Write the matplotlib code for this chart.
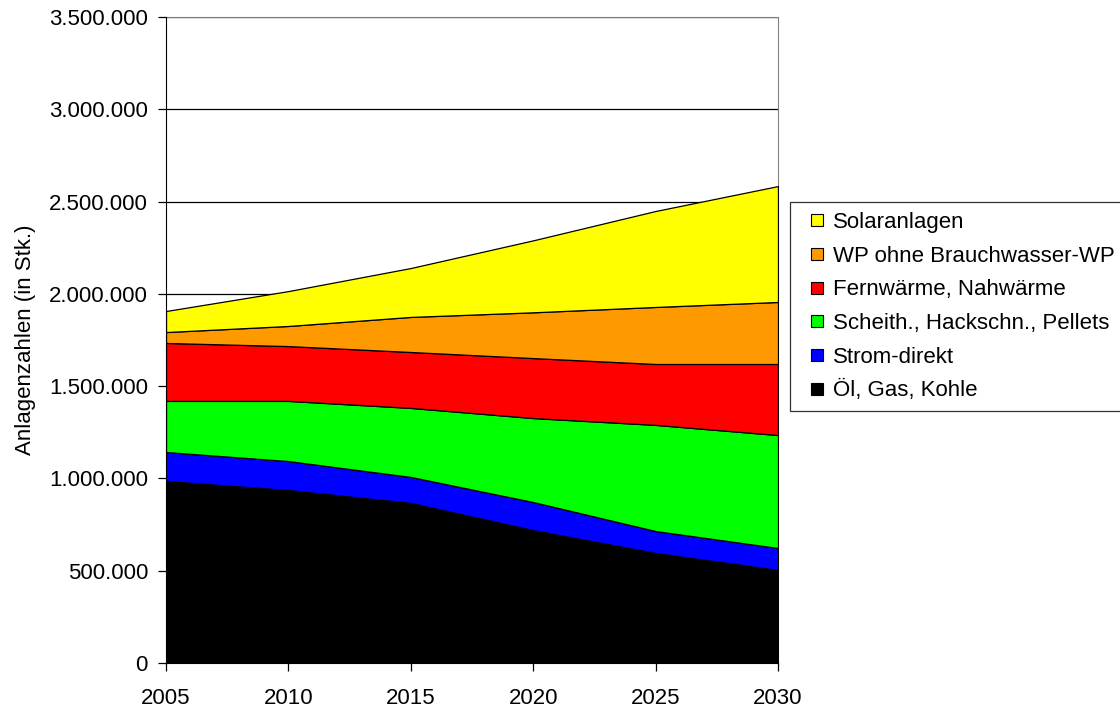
import matplotlib
matplotlib.use("Agg")
import matplotlib.pyplot as plt
from matplotlib.lines import Line2D
from matplotlib.ticker import FuncFormatter

plt.rcParams['font.family'] = ['Liberation Sans', 'DejaVu Sans']

# ---------- Data ----------
years = [2005, 2010, 2015, 2020, 2025, 2030]

oel_gas_kohle = [986000, 937000, 867000, 720000, 596000, 504000]
strom_direkt = [157000, 157000, 141000, 152000, 119000, 119000]
scheitholz = [277000, 326000, 374000, 455000, 575000, 612000]
fernwaerme = [314000, 297000, 303000, 325000, 330000, 385000]
wp = [59000, 109000, 190000, 248000, 309000, 336000]
solar = [114000, 189000, 265000, 390000, 520000, 628000]

labels = [
    "Öl, Gas, Kohle",
    "Strom-direkt",
    "Scheith., Hackschn., Pellets",
    "Fernwärme, Nahwärme",
    "WP ohne Brauchwasser-WP",
    "Solaranlagen",
]
colors = ["#000000", "#0000FF", "#00FF00", "#FF0000", "#FF9900", "#FFFF00"]

FS = 16

# ---------- Plot ----------
fig = plt.figure(figsize=(11.2, 7.08), dpi=100)
ax = fig.add_axes([166 / 1120, 1 - 663 / 708, (778 - 166) / 1120, (663 - 17) / 708])

ax.stackplot(years, oel_gas_kohle, strom_direkt, scheitholz, fernwaerme, wp, solar,
             colors=colors, edgecolor="black", linewidth=0.9, zorder=3)

ax.set_xlim(2005, 2030)
ax.set_ylim(0, 3500000)
ax.set_xticks(years)
ax.set_yticks(range(0, 3500001, 500000))
ax.yaxis.set_major_formatter(FuncFormatter(lambda v, p: f"{int(v):,}".replace(",", ".")))
ax.grid(axis="y", color="black", linewidth=0.9, zorder=1)

for side in ["top", "right"]:
    ax.spines[side].set_color("#808080")
for side in ["left", "bottom"]:
    ax.spines[side].set_color("black")
ax.spines["left"].set_zorder(5)

ax.tick_params(axis="both", direction="out", length=6, width=0.9, labelsize=FS, colors="black")
ax.tick_params(axis="y", pad=7)
ax.tick_params(axis="x", pad=12)
ax.set_ylabel("Anlagenzahlen (in Stk.)", fontsize=FS, labelpad=9)

# square legend keys with black outline
handles = [Line2D([], [], linestyle="none", marker="s", markersize=8.5,
                  markerfacecolor=c, markeredgecolor="black", markeredgewidth=0.8)
           for c in colors]
leg = fig.legend(handles[::-1], labels[::-1], loc="upper left",
                 bbox_to_anchor=(790 / 1120, 1 - 202 / 708),
                 fontsize=FS, frameon=True, fancybox=False, edgecolor="black",
                 handlelength=1.5, handletextpad=0.0,
                 labelspacing=0.57, borderpad=0.45, borderaxespad=0)
leg.get_frame().set_linewidth(0.9)

fig.savefig("out.png", dpi=100, facecolor="white")
